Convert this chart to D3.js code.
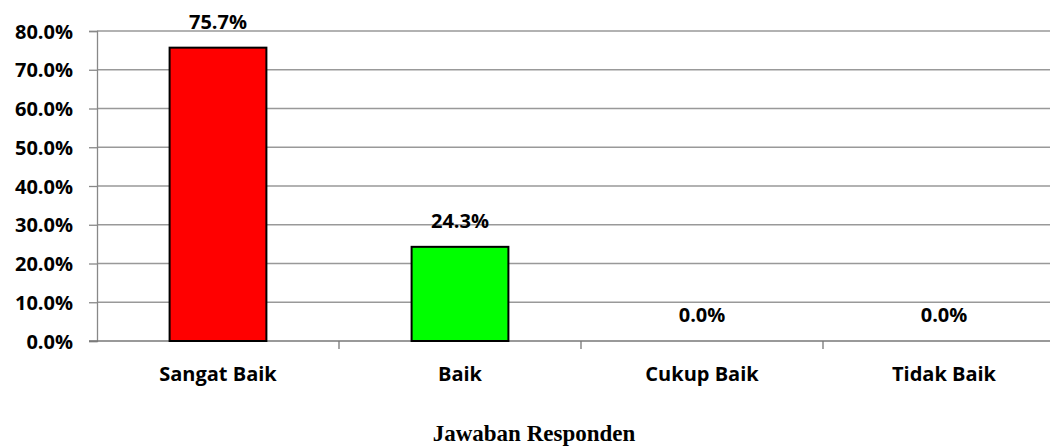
<!DOCTYPE html>
<html>
<head>
<meta charset="utf-8">
<script src="https://cdn.jsdelivr.net/npm/d3@7"></script>
<style>
  body { margin: 0; background: #fff; }
  svg { display: block; }
  .tick-label, .cat-label, .val-label { font-family: "Open Sans", sans-serif; font-weight: bold; fill: #000; }
</style>
</head>
<body>
<div id="chart"></div>
<script>
const categories = ['Sangat Baik', 'Baik', 'Cukup Baik', 'Tidak Baik'];
const values = [75.7, 24.3, 0.0, 0.0];
const colors = ['#ff0000', '#00ff00', '#0000ff', '#ffff00'];
const yTicks = [0, 10, 20, 30, 40, 50, 60, 70, 80];
const axisTitle = 'Jawaban Responden';

const width = 1050;
const height = 447;
const left = 97;
const bandW = 242;

const svg = d3.select('#chart').append('svg')
  .attr('width', width)
  .attr('height', height);

const x = d3.scaleBand()
  .domain(categories)
  .range([left, left + bandW * categories.length])
  .paddingInner(0.6)
  .paddingOuter(0.3);

const y = d3.scaleLinear()
  .domain([0, 80])
  .range([341, 31]);

// gridlines
svg.selectAll('.grid').data(yTicks.slice(1)).enter().append('line')
  .attr('x1', left).attr('x2', width)
  .attr('y1', d => y(d)).attr('y2', d => y(d))
  .attr('stroke', '#999').attr('stroke-width', 1.3);

// y axis
const yAxis = svg.append('g')
  .attr('transform', `translate(${left},0)`)
  .call(d3.axisLeft(y).tickValues(yTicks).tickSize(8).tickPadding(16).tickFormat(d => d.toFixed(1) + '%'));
yAxis.select('.domain').attr('stroke', '#888').attr('stroke-width', 1.3);
yAxis.selectAll('.tick line').attr('stroke', '#888').attr('stroke-width', 1.3);
yAxis.selectAll('.tick text').attr('class', 'tick-label').style('font-size', '20px').attr('dy', '0.35em');

// x axis line + boundary ticks
svg.append('line')
  .attr('x1', left - 8).attr('x2', width)
  .attr('y1', y(0)).attr('y2', y(0))
  .attr('stroke', '#777').attr('stroke-width', 1.5);
svg.selectAll('.xtick').data(categories.slice(1)).enter().append('line')
  .attr('x1', d => x(d) - x.step() * 0.3).attr('x2', d => x(d) - x.step() * 0.3)
  .attr('y1', y(0)).attr('y2', y(0) + 8)
  .attr('stroke', '#777').attr('stroke-width', 1.3);

// bars
svg.selectAll('.bar').data(values).enter().append('rect')
  .attr('x', (d, i) => x(categories[i]))
  .attr('y', d => y(d))
  .attr('width', x.bandwidth())
  .attr('height', d => y(0) - y(d))
  .attr('fill', (d, i) => colors[i])
  .attr('stroke', '#000')
  .attr('stroke-width', 2)
  .style('display', d => d > 0 ? null : 'none');

// value labels
svg.selectAll('.val').data(values).enter().append('text')
  .attr('class', 'val-label')
  .attr('x', (d, i) => x(categories[i]) + x.bandwidth() / 2)
  .attr('y', d => y(d) - 19)
  .attr('text-anchor', 'middle')
  .style('font-size', '20px')
  .text(d => d.toFixed(1) + '%');

// category labels
svg.selectAll('.cat').data(categories).enter().append('text')
  .attr('class', 'cat-label')
  .attr('x', d => x(d) + x.bandwidth() / 2)
  .attr('y', 381)
  .attr('text-anchor', 'middle')
  .style('font-size', '20px')
  .text(d => d);

// axis title
svg.append('text')
  .attr('x', 534)
  .attr('y', 441)
  .attr('text-anchor', 'middle')
  .style('font-family', '"Liberation Serif", serif')
  .style('font-weight', 'bold')
  .style('font-size', '23px')
  .text(axisTitle);
</script>
</body>
</html>
